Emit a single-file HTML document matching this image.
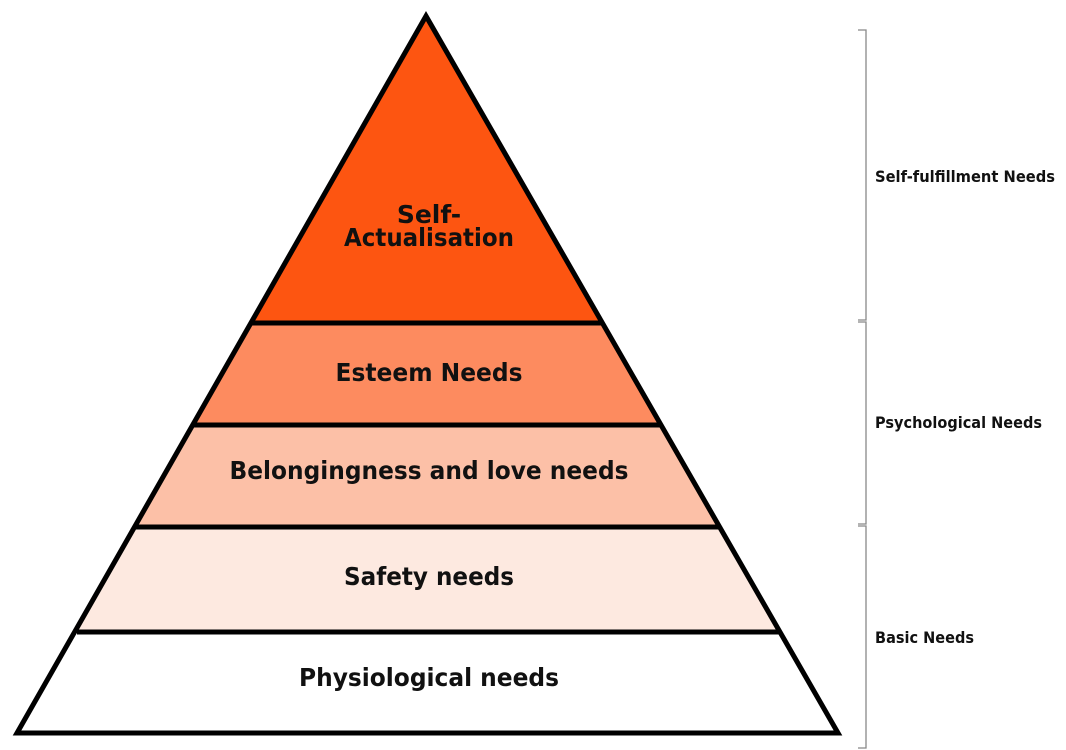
<!DOCTYPE html>
<html><head><style>body{margin:0;background:#fff}svg{display:block}</style></head><body>
<svg width="1066" height="750" viewBox="0 0 1066 750" xmlns="http://www.w3.org/2000/svg">
<polygon points="426,16 252,323 602,323" fill="#fd5511"/>
<polygon points="252,323 602,323 660,425 194,425" fill="#fd8b5f"/>
<polygon points="194,425 660,425 719,527 136,527" fill="#fcc0a7"/>
<polygon points="136,527 719,527 779,632 77,632" fill="#fde9e0"/>
<polygon points="77,632 779,632 838,733 17,733" fill="#fff"/>
<g stroke="#000" stroke-width="5" fill="none" stroke-linejoin="miter">
<polygon points="426,16 838,733 17,733"/>
<line x1="252" y1="323" x2="602" y2="323"/>
<line x1="194" y1="425" x2="660" y2="425"/>
<line x1="136" y1="527" x2="719" y2="527"/>
<line x1="77" y1="632" x2="779" y2="632"/>
</g>
<g font-family="'DejaVu Sans', Verdana, sans-serif" font-weight="bold" font-size="25" fill="#111" text-anchor="middle">
<text x="429" y="223">Self-</text>
<text x="429" y="246" textLength="170" lengthAdjust="spacingAndGlyphs">Actualisation</text>
<text x="429" y="381" textLength="187" lengthAdjust="spacingAndGlyphs">Esteem Needs</text>
<text x="429" y="479" textLength="399" lengthAdjust="spacingAndGlyphs">Belongingness and love needs</text>
<text x="429" y="585" textLength="170" lengthAdjust="spacingAndGlyphs">Safety needs</text>
<text x="429" y="686" textLength="260" lengthAdjust="spacingAndGlyphs">Physiological needs</text>
</g>
<g stroke="#888" stroke-width="1.3" fill="none">
<polyline points="858,30 866,30 866,320 858,320"/>
<polyline points="858,322 866,322 866,524 858,524"/>
<polyline points="858,526 866,526 866,748 858,748"/>
</g>
<g font-family="'DejaVu Sans', sans-serif" font-weight="bold" font-size="16" fill="#111">
<text x="875" y="182" textLength="180" lengthAdjust="spacingAndGlyphs">Self-fulfillment Needs</text>
<text x="875" y="428" textLength="167" lengthAdjust="spacingAndGlyphs">Psychological Needs</text>
<text x="875" y="643" textLength="99" lengthAdjust="spacingAndGlyphs">Basic Needs</text>
</g>
</svg>
</body></html>
